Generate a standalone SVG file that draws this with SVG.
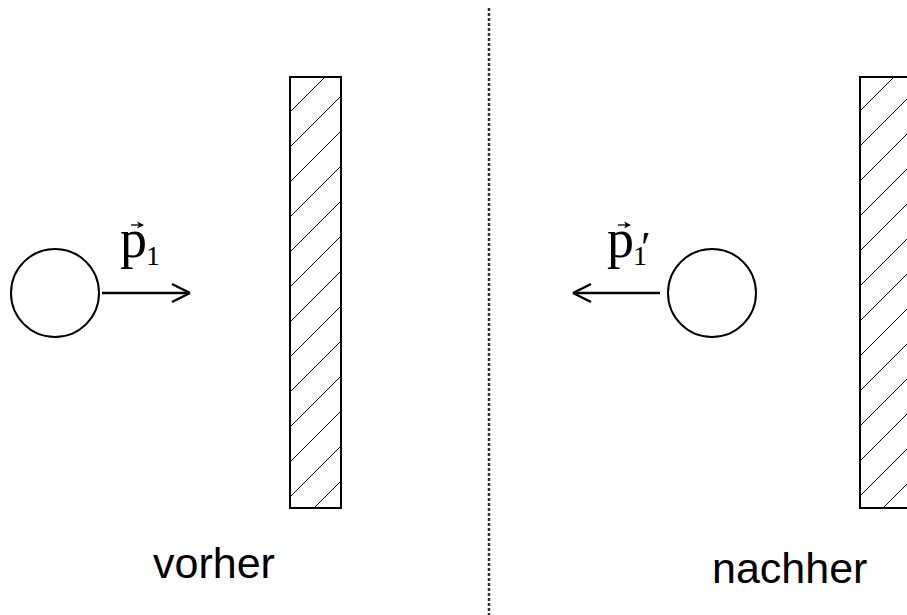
<svg xmlns="http://www.w3.org/2000/svg" width="907" height="615" viewBox="0 0 907 615">
<defs>
<style>
.ball{fill:none;stroke:#000;stroke-width:2}
.wall{fill:none;stroke:#000;stroke-width:2}
.hatch{stroke:#000;stroke-width:1}
.arr{stroke:#000;stroke-width:2.5;fill:none}
.vec{font-family:"Liberation Serif","Times New Roman",serif;fill:#000}
.cap{font-family:"Liberation Sans",Arial,sans-serif;font-size:43px;fill:#000}
</style>
<clipPath id="cw1"><rect x="290" y="77" width="51" height="431"/></clipPath>
<clipPath id="cw2"><rect x="860" y="77" width="60" height="431"/></clipPath>
</defs>
<rect width="907" height="615" fill="#fff"/>
<line x1="489" y1="8" x2="489" y2="615" stroke="#333" stroke-width="2.5" stroke-dasharray="3,2"/>
<g id="wall-left">
<g clip-path="url(#cw1)">
<g class="hatch">
<line x1="402" y1="0" x2="-198" y2="600"/>
<line x1="437" y1="0" x2="-163" y2="600"/>
<line x1="472" y1="0" x2="-128" y2="600"/>
<line x1="507" y1="0" x2="-93" y2="600"/>
<line x1="542" y1="0" x2="-58" y2="600"/>
<line x1="577" y1="0" x2="-23" y2="600"/>
<line x1="612" y1="0" x2="12" y2="600"/>
<line x1="647" y1="0" x2="47" y2="600"/>
<line x1="682" y1="0" x2="82" y2="600"/>
<line x1="717" y1="0" x2="117" y2="600"/>
<line x1="752" y1="0" x2="152" y2="600"/>
<line x1="787" y1="0" x2="187" y2="600"/>
<line x1="822" y1="0" x2="222" y2="600"/>
<line x1="857" y1="0" x2="257" y2="600"/>
</g>
</g>
<rect class="wall" x="290" y="77" width="51" height="431"/>
</g>
<g id="wall-right">
<g clip-path="url(#cw2)">
<g class="hatch">
<line x1="971" y1="0" x2="371" y2="600"/>
<line x1="1006" y1="0" x2="406" y2="600"/>
<line x1="1041" y1="0" x2="441" y2="600"/>
<line x1="1076" y1="0" x2="476" y2="600"/>
<line x1="1111" y1="0" x2="511" y2="600"/>
<line x1="1146" y1="0" x2="546" y2="600"/>
<line x1="1181" y1="0" x2="581" y2="600"/>
<line x1="1216" y1="0" x2="616" y2="600"/>
<line x1="1251" y1="0" x2="651" y2="600"/>
<line x1="1286" y1="0" x2="686" y2="600"/>
<line x1="1321" y1="0" x2="721" y2="600"/>
<line x1="1356" y1="0" x2="756" y2="600"/>
<line x1="1391" y1="0" x2="791" y2="600"/>
<line x1="1426" y1="0" x2="826" y2="600"/>
<line x1="1461" y1="0" x2="861" y2="600"/>
</g>
</g>
<rect class="wall" x="860" y="77" width="60" height="431"/>
</g>
<g id="ball-left">
<circle class="ball" cx="55" cy="293" r="44"/>
</g>
<g id="ball-right">
<circle class="ball" cx="712" cy="293" r="44"/>
</g>
<g id="connectors">
<line class="arr" x1="102" y1="293" x2="188" y2="293"/>
<path d="M190,293 L172,284 M190,293 L172,302" class="arr" stroke-width="1.5"/>
<line class="arr" x1="660" y1="293" x2="575" y2="293"/>
<path d="M573,293 L591,284 M573,293 L591,302" class="arr" stroke-width="1.5"/>
</g>
<g id="label-p1">
<text class="vec" x="120" y="257" font-size="54">p</text>
<text class="vec" x="146" y="265" font-size="28">1</text>
<path d="M131,225 H142" stroke="#000" stroke-width="1.3"/>
<path d="M144,225 L137,221.5 L139,225 L137,228.5 Z" fill="#000"/>
</g>
<g id="label-p1prime">
<text class="vec" x="607" y="257" font-size="54">p</text>
<text class="vec" x="633" y="265" font-size="28">1</text>
<text class="vec" x="641" y="262" font-size="44">′</text>
<path d="M618,225 H629" stroke="#000" stroke-width="1.3"/>
<path d="M631,225 L624,221.5 L626,225 L624,228.5 Z" fill="#000"/>
</g>
<text class="cap" x="153" y="578">vorher</text>
<text class="cap" x="712" y="583">nachher</text>
</svg>
